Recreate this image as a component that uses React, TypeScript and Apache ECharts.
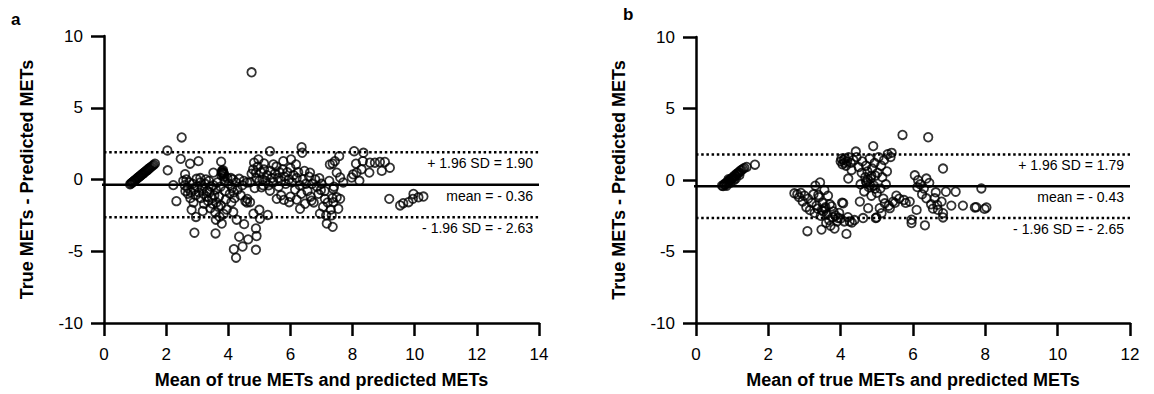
import React, { useEffect, useRef } from "react";
import * as echarts from "echarts";

// ---------- DATA ----------
const xMaxA = 14;
const xMaxB = 12;
const yTicks = [-10, -5, 0, 5, 10];
const xTitle = "Mean of true METs and predicted METs";
const yTitle = "True METs - Predicted METs";

const limitsA = [1.9, -0.36, -2.63]; // +1.96SD, mean, -1.96SD
const limitsB = [1.79, -0.43, -2.65];
const labelsA = ["+ 1.96 SD = 1.90", "mean = - 0.36", "- 1.96 SD = - 2.63"];
const labelsB = ["+ 1.96 SD = 1.79", "mean = - 0.43", "- 1.96 SD = - 2.65"];

const pointsA: [number, number][] = [
  // low-intensity diagonal
  [0.84, -0.34], [0.87, -0.28], [0.9, -0.22], [0.92, -0.2], [0.95, -0.14], [0.98, -0.08], [1.0, -0.05],
  [1.03, 0.01], [1.06, 0.06], [1.09, 0.12], [1.12, 0.17], [1.15, 0.22], [1.18, 0.28], [1.21, 0.33],
  [1.24, 0.38], [1.27, 0.44], [1.3, 0.49], [1.33, 0.55], [1.36, 0.6], [1.39, 0.65], [1.42, 0.71],
  [1.45, 0.76], [1.48, 0.82], [1.52, 0.88], [1.56, 0.95], [1.6, 1.02], [1.64, 1.1],
  // scattered
  [2.04, 2.02], [2.05, 0.64], [2.23, -0.39], [2.33, -1.51], [2.5, 2.93], [2.47, 1.44], [2.77, 1.1],
  [3.04, 1.28], [2.61, 0.37], [2.82, -2.11], [2.96, -2.61], [2.91, -3.71], [3.59, -3.76], [3.77, 1.24],
  [3.52, 0.48], [3.79, -3.07], [4.16, -2.27], [4.27, -2.8], [4.51, -3.11], [4.35, -3.99], [4.64, -4.17],
  [4.18, -4.86], [4.25, -5.45], [4.46, -4.67], [4.89, -4.9], [4.91, -3.94], [4.89, -3.41], [5.02, -2.73],
  [4.81, -2.38], [5.0, -2.11], [5.27, -2.47], [4.61, -1.35], [4.7, -1.58], [4.61, -0.21], [4.83, 1.17],
  [4.89, 0.48], [4.97, 1.4], [5.34, 1.97], [5.15, 1.12], [5.45, 1.05], [5.77, 1.28], [6.02, 1.4],
  [6.18, 1.05], [6.36, 2.25], [6.38, 1.86], [6.63, 0.48], [6.93, 0.09], [6.98, -0.73], [7.11, -1.35],
  [6.95, -2.38], [7.17, -3.07], [7.27, 1.05], [5.07, -0.55], [5.34, -0.78], [5.56, -1.35], [5.79, -1.42],
  [5.96, -1.58], [6.31, -2.04], [6.47, -1.69], [6.68, -1.47], [4.75, 7.47],
  // dense band 2.5 - 4.6
  [2.55, -0.1], [2.6, -0.4], [2.65, 0.0], [2.7, -0.6], [2.75, -0.2], [2.8, -0.9], [2.85, -0.3], [2.9, -0.7],
  [2.95, -1.1], [2.98, 0.05], [2.7, -1.0], [2.62, -0.8], [2.78, -1.3], [2.88, -1.6], [3.0, -0.5],
  [3.05, -0.9], [3.1, -0.2], [3.12, -1.3], [3.15, -0.6], [3.2, -1.0], [3.22, -1.7], [3.25, -0.3], [3.3, -1.2],
  [3.32, -0.8], [3.35, -1.5], [3.38, -0.1], [3.4, -0.9], [3.42, -2.0], [3.45, -0.5], [3.48, -1.3], [3.1, 0.1],
  [3.18, -2.2], [3.28, 0.0], [3.5, -1.7],
  [3.52, -0.4], [3.55, -1.1], [3.58, -2.3], [3.6, -0.7], [3.62, -1.6], [3.65, -0.2], [3.68, -1.9], [3.7, -1.2],
  [3.72, -2.6], [3.75, -0.5], [3.78, 0.3], [3.8, 0.6], [3.82, 0.4], [3.84, 0.5], [3.86, 0.2], [3.88, -0.1],
  [3.9, -0.8], [3.92, -1.4], [3.95, -2.1], [3.97, 0.1], [3.6, -2.8], [3.85, -2.4], [3.76, -1.8],
  [3.81, 0.45], [3.83, 0.65], [3.79, 0.5], [3.87, 0.35],
  [4.02, -0.3], [4.05, -1.0], [4.08, 0.1], [4.1, -1.6], [4.12, -0.6], [4.15, 0.0], [4.18, -0.9], [4.2, -1.3],
  [4.25, -0.2], [4.3, -0.7], [4.35, 0.05], [4.4, -1.1], [4.45, -0.4], [4.5, -0.1], [4.55, -1.5], [4.6, -1.6],
  // band 4.7 - 7.5
  [4.7, -0.2], [4.75, 0.4], [4.8, 0.7], [4.85, -0.6], [4.9, 0.1], [4.95, 0.9], [5.0, -0.1], [5.05, 0.5],
  [5.1, 0.0], [5.12, -0.4], [5.15, 0.7], [5.2, -0.1], [5.25, 0.3], [5.3, -0.4], [5.35, 0.6], [5.4, 0.1],
  [5.45, -0.2], [5.5, 0.4], [5.55, 0.9], [5.6, 0.1], [5.62, -0.5], [5.65, 0.5], [5.7, -0.1], [5.75, 0.7],
  [5.8, 0.2], [5.85, -0.3], [5.9, 0.5], [5.95, 0.0], [6.0, 0.8], [6.05, -0.2], [6.1, 0.3], [6.15, -0.7],
  [6.2, 0.1], [6.25, 0.5], [6.3, -0.4], [6.35, -1.0], [6.4, 0.0], [6.45, 0.6], [6.5, -0.3], [5.7, -1.1],
  [6.0, -1.2], [6.2, -1.4], [6.55, -0.8], [6.6, 0.2], [6.65, -1.2], [6.7, -0.3], [6.75, -1.6], [6.8, 0.0],
  [6.85, -0.5], [6.9, -1.0], [7.0, -0.3], [7.05, -1.9], [7.1, -0.8], [7.15, -2.5], [7.2, -1.6], [7.25, -0.1],
  [7.3, -2.1], [7.35, -1.3], [7.4, -0.5],
  // right side
  [8.05, 1.97], [8.35, 1.86], [7.57, 1.63], [7.43, 1.28], [7.36, 1.1], [8.11, 1.1], [8.33, 1.28], [8.56, 1.17],
  [8.72, 1.17], [8.88, 1.22], [9.04, 1.22], [9.2, 0.82], [8.94, 0.6], [8.54, 0.48], [8.29, 0.71], [8.13, 0.48],
  [8.02, 0.36], [7.97, 0.14], [8.22, -0.09], [7.7, -0.21], [7.6, 0.14], [7.49, 0.48], [7.38, -0.66],
  [7.49, -1.24], [7.6, -1.35], [7.38, -1.58], [7.54, -2.04], [7.33, -2.5], [7.36, -3.3], [9.18, -1.35],
  [9.53, -1.81], [9.63, -1.65], [9.8, -1.58], [9.96, -1.01], [9.94, -1.35], [10.12, -1.24], [10.28, -1.19],
];

const pointsB: [number, number][] = [
  // low-intensity diagonal
  [0.72, -0.4], [0.75, -0.43], [0.78, -0.3], [0.8, -0.35], [0.82, -0.22], [0.85, -0.25], [0.87, -0.12],
  [0.9, -0.15], [0.92, -0.02], [0.95, 0.0], [0.97, 0.08], [1.0, 0.12], [1.02, 0.2], [1.05, 0.18],
  [1.07, 0.32], [1.1, 0.3], [1.12, 0.42], [1.15, 0.45], [1.18, 0.55], [1.2, 0.5], [1.23, 0.65],
  [1.26, 0.7], [1.3, 0.78], [1.34, 0.85], [1.4, 0.91], [1.63, 1.07], [0.85, -0.4], [0.95, -0.2],
  [1.05, 0.0], [1.1, 0.1], [0.9, 0.05], [1.2, 0.35],
  // cluster 2.7 - 4.4
  [2.72, -0.93], [2.8, -1.0], [2.85, -1.2], [2.9, -0.9], [2.95, -1.5], [3.0, -1.1], [3.05, -1.9], [3.08, -3.58],
  [3.1, -1.3], [3.15, -2.1], [3.2, -1.6], [3.25, -1.0], [3.28, -2.3], [3.3, -0.4], [3.33, -1.8], [3.36, -2.0],
  [3.4, -1.2], [3.43, -0.17], [3.45, -2.5], [3.47, -3.47], [3.5, -1.6], [3.52, -2.2], [3.55, -0.7], [3.58, -1.9],
  [3.6, -3.0], [3.62, -2.4], [3.65, -1.1], [3.68, -2.8], [3.7, -1.7], [3.72, -3.2], [3.75, -1.85], [3.78, -2.6],
  [3.8, -2.2], [3.83, -3.4], [3.86, -2.5], [3.9, -2.9], [3.93, -2.66], [3.96, -2.3], [4.0, -2.7], [4.04, -1.58],
  [4.07, -1.63], [4.1, -2.9], [4.16, -3.77], [4.2, -2.6], [4.25, -2.9], [4.31, -2.98], [4.38, -2.8],
  [3.38, -1.05], [3.48, -2.1], [3.56, -2.0],
  // upper cluster near 4
  [4.0, 1.3], [4.02, 1.49], [4.05, 1.1], [4.08, 1.4], [4.1, 1.2], [4.12, 1.5], [4.15, 1.0], [4.18, 1.3],
  [4.21, 0.1], [4.22, 1.6], [4.28, 1.2], [4.3, 0.7], [4.35, 1.4], [4.42, 1.99], [4.44, 1.6], [4.5, 0.9],
  // dense 4.5 - 5.5
  [4.53, -1.51], [4.55, -0.3], [4.58, 0.5], [4.6, 1.3], [4.62, -2.66], [4.65, -0.8], [4.68, 0.2], [4.7, 1.0],
  [4.72, -0.2], [4.74, 0.6], [4.76, -1.97], [4.78, -0.5], [4.8, 1.5], [4.81, -0.36], [4.83, 0.1], [4.85, -1.1],
  [4.87, 0.8], [4.9, 2.37], [4.92, -0.4], [4.94, 1.2], [4.96, 0.3], [4.97, -2.66], [4.99, -2.62], [5.0, -0.9],
  [5.02, 0.5], [5.05, 1.6], [5.08, -1.97], [5.1, -0.6], [5.12, 1.0], [5.13, -2.32], [5.15, 0.2], [5.18, -1.3],
  [5.2, 1.4], [5.22, -1.63], [5.25, -0.3], [5.28, 0.6], [5.3, 1.8], [5.33, -1.8], [5.36, -1.97], [5.38, 1.61],
  [5.41, 1.9], [5.45, -1.51], [5.5, -1.6], [5.54, -1.1], [4.75, 0.0], [4.85, 0.3], [4.95, -0.6], [4.7, -0.1],
  // right side
  [5.62, -1.3], [5.71, 3.15], [5.75, -1.4], [5.8, -1.6], [5.91, -1.51], [5.96, -2.78], [5.96, -3.01],
  [6.05, 0.33], [6.1, -2.09], [6.12, -0.5], [6.14, -0.01], [6.2, -0.3], [6.25, -1.0], [6.3, -0.6],
  [6.33, -3.17], [6.37, 0.1], [6.37, -1.28], [6.42, 2.99], [6.45, -0.2], [6.5, -1.7], [6.55, -2.0],
  [6.6, -1.28], [6.63, -0.86], [6.67, -1.74], [6.69, -2.09], [6.79, -1.51], [6.83, 0.8], [6.83, -2.32],
  [6.83, -2.62], [6.91, -0.82], [7.06, -1.79], [7.18, -0.82], [7.38, -1.79], [7.71, -1.92], [7.75, -1.9],
  [7.89, -0.59], [7.98, -2.02], [8.03, -1.92],
];

// mean line reaches out to the y-axis tick end (in x units)
const meanStartA = -0.45;
const meanStartB = -0.39;

// ---------- STYLE ----------
const FONT = "'Liberation Sans', Arial, Helvetica, sans-serif";
const AXW = 2.5;

function xAxisCfg(gridIndex: number, max: number) {
  return {
    type: "value" as const,
    gridIndex,
    min: 0,
    max,
    interval: 2,
    name: xTitle,
    nameLocation: "middle" as const,
    nameGap: 48,
    nameTextStyle: { fontFamily: FONT, fontSize: 18, fontWeight: "bold", color: "#000" },
    axisLine: { onZero: false, lineStyle: { color: "#000", width: AXW } },
    axisTick: { length: 13, lineStyle: { color: "#000", width: AXW } },
    axisLabel: { fontFamily: FONT, fontSize: 17, color: "#000", margin: 23 },
    splitLine: { show: false },
  };
}

function yAxisCfg(gridIndex: number) {
  return {
    type: "value" as const,
    gridIndex,
    min: yTicks[0],
    max: yTicks[yTicks.length - 1],
    interval: 5,
    name: yTitle,
    nameLocation: "middle" as const,
    nameGap: 68,
    nameRotate: 90,
    nameTextStyle: { fontFamily: FONT, fontSize: 18, fontWeight: "bold", color: "#000" },
    axisLine: { onZero: false, lineStyle: { color: "#000", width: AXW } },
    axisTick: { length: 13, lineStyle: { color: "#000", width: AXW } },
    axisLabel: { fontFamily: FONT, fontSize: 17, color: "#000", margin: 21 },
    splitLine: { show: false },
  };
}

function scatter(idx: number, data: [number, number][]) {
  return {
    type: "scatter" as const,
    xAxisIndex: idx,
    yAxisIndex: idx,
    data,
    symbol: "circle",
    symbolSize: 8.5,
    silent: true,
    itemStyle: { color: "rgba(255,255,255,0)", borderColor: "#000", borderWidth: 1.8 },
    z: 5,
  };
}

function hLine(idx: number, x0: number, x1: number, y: number, dotted: boolean) {
  return {
    type: "line" as const,
    xAxisIndex: idx,
    yAxisIndex: idx,
    data: [[x0, y], [x1, y]],
    symbol: "none",
    silent: true,
    clip: false,
    lineStyle: dotted
      ? { color: "#000", width: 2.5, type: [2.5, 2.7] }
      : { color: "#000", width: 2.5, type: "solid" },
    z: 3,
  };
}

export default function App() {
  const ref = useRef<HTMLDivElement>(null);

  useEffect(() => {
    document.body.style.margin = "0";
    const chart = echarts.init(ref.current!, undefined, { renderer: "svg" });
    const option: any = {
      animation: false,
      backgroundColor: "#fff",
      grid: [
        { left: 104, top: 36, width: 435, height: 291 },
        { left: 696, top: 37, width: 434, height: 289 },
      ],
      xAxis: [xAxisCfg(0, xMaxA), xAxisCfg(1, xMaxB)],
      yAxis: [yAxisCfg(0), yAxisCfg(1)],
      series: [
        hLine(0, 0, xMaxA, limitsA[0], true),
        hLine(0, meanStartA, xMaxA, limitsA[1], false),
        hLine(0, 0, xMaxA, limitsA[2], true),
        hLine(1, 0, xMaxB, limitsB[0], true),
        hLine(1, meanStartB, xMaxB, limitsB[1], false),
        hLine(1, 0, xMaxB, limitsB[2], true),
        scatter(0, pointsA),
        scatter(1, pointsB),
      ],
    };
    chart.setOption(option);

    const graphics: any[] = [
      { type: "text", left: 11, top: 11, style: { text: "a", font: `bold 17px ${FONT}`, fill: "#000" } },
      { type: "text", left: 623, top: 6, style: { text: "b", font: `bold 17px ${FONT}`, fill: "#000" } },
    ];
    const panels = [
      { idx: 0, max: xMaxA, limits: limitsA, labels: labelsA },
      { idx: 1, max: xMaxB, limits: limitsB, labels: labelsB },
    ];
    panels.forEach((p) => {
      p.limits.forEach((v, k) => {
        const pt = chart.convertToPixel({ gridIndex: p.idx } as any, [p.max, v]) as number[];
        graphics.push({
          type: "text",
          x: pt[0] - 6,
          y: pt[1] + 4,
          style: {
            text: p.labels[k],
            font: `14px ${FONT}`,
            fill: "#000",
            align: "right",
            verticalAlign: "top",
          },
          z: 10,
        });
      });
    });
    chart.setOption({ graphic: graphics });

    return () => chart.dispose();
  }, []);

  return (
    <div
      ref={ref}
      style={{ position: "fixed", left: 0, top: 0, width: 1154, height: 394, background: "#fff" }}
    />
  );
}
